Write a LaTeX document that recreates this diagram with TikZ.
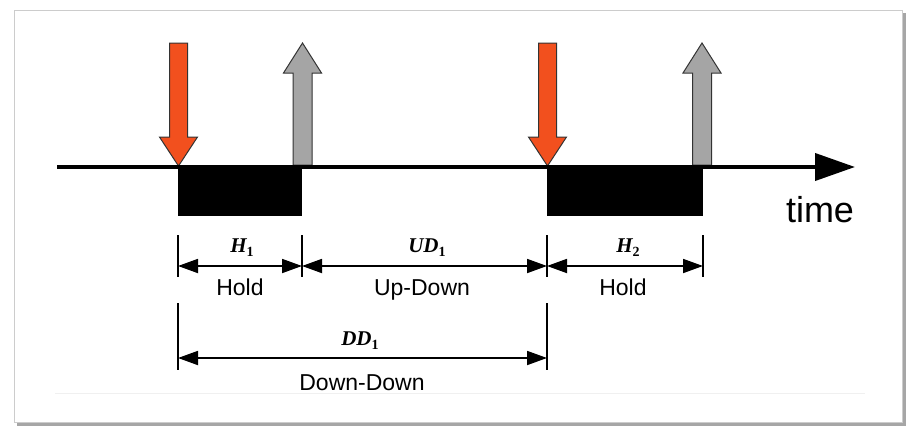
\documentclass[tikz,border=0pt]{standalone}
\usepackage{fontspec}
\setmainfont{Liberation Serif}
\setsansfont{Liberation Sans}
\usetikzlibrary{arrows.meta}
\definecolor{keyred}{RGB}{242,80,30}
\definecolor{keygray}{RGB}{165,165,165}
\newcommand{\ivl}[2]{{\bfseries\itshape #1}\raisebox{-0.45ex}{\fontsize{14}{14}\selectfont\bfseries #2}}

\begin{document}
\begin{tikzpicture}
      [x=1pt,y=-1pt,
       keydown/.style={draw=black!80,fill=keyred,line width=1pt},
       keyup/.style={draw=black!80,fill=keygray,line width=1pt},
       dimarr/.style={line width=1.8pt,{Triangle[length=20pt,width=14pt]}-{Triangle[length=20pt,width=14pt]}},
       extline/.style={line width=1.5pt},
       ivlname/.style={anchor=base,font=\fontsize{21}{21}\selectfont},
       ivltext/.style={anchor=base,font=\sffamily\fontsize{23}{23}\selectfont}]
	\useasboundingbox (0,0) rectangle (914,439);
	% frame
	\fill[black!35] (17,13) rectangle (906,426);
	\draw[black!20,fill=white,line width=1pt] (14,10) rectangle (902,422);
	\draw[black!6,line width=1pt] (55,393) -- (865,393);

	\coordinate (d1) at (178,167);
	\coordinate (u1) at (302,167);
	\coordinate (d2) at (547,167);
	\coordinate (u2) at (703,167);
	\coordinate (t0) at (57,167);
	\coordinate (t1) at (855,167);

	\fill (d1) rectangle (u1 |- 0,216);
	\fill (d2) rectangle (u2 |- 0,216);

	\foreach \c in {178.5,547.5}
	  \draw[keydown] (\c-9,43) -- (\c+9,43) -- (\c+9,137) -- (\c+19,137) -- (\c,166) -- (\c-19,137) -- (\c-9,137) -- cycle;
	\foreach \c in {302.5,702}
	  \draw[keyup] (\c-9.5,165) -- (\c-9.5,73) -- (\c-19,73) -- (\c,43) -- (\c+19,73) -- (\c+9.5,73) -- (\c+9.5,165) -- cycle;

	\draw[line width=4pt,-{Triangle[length=40pt,width=27pt]}] (t0) -- (t1);
	\node (time) [anchor=base,font=\sffamily\fontsize{36}{36}\selectfont] at (820,222) {time};

	\foreach \k in {d1,u1,d2,u2}
	  \draw[extline] (\k |- 0,235) -- (\k |- 0,277);
	\foreach \k in {d1,d2}
	  \draw[extline] (\k |- 0,303) -- (\k |- 0,370);
	\foreach \from/\to in {d1/u1,u1/d2,d2/u2}
	  \draw[dimarr] (\from |- 0,266) -- (\to |- 0,266);
	\draw[dimarr] (d1 |- 0,358) -- (d2 |- 0,358);

	\node (h1)  [ivlname] at (242,252) {\ivl{H}{1}};
	\node (ud1) [ivlname] at (427,252) {\ivl{UD}{1}};
	\node (h2)  [ivlname] at (628,252) {\ivl{H}{2}};
	\node (dd1) [ivlname] at (360,345) {\ivl{DD}{1}};
	\node (hold1)  [ivltext] at (240,295) {Hold};
	\node (updown) [ivltext] at (422,295) {Up-Down};
	\node (hold2)  [ivltext] at (623,295) {Hold};
	\node (downdown) [ivltext] at (362,390) {Down-Down};
\end{tikzpicture}
\end{document}
